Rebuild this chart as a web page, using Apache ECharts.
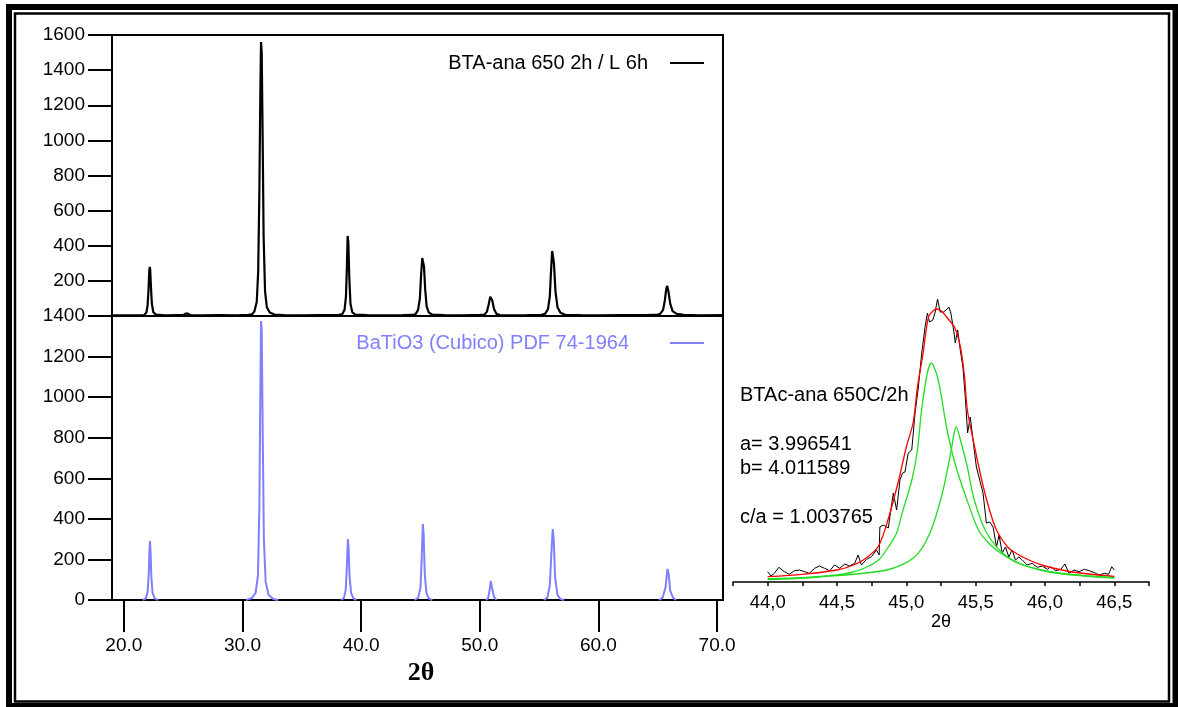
<!DOCTYPE html>
<html><head><meta charset="utf-8">
<script src="https://cdn.jsdelivr.net/npm/echarts@6/dist/echarts.min.js"></script>
<style>html,body{margin:0;padding:0;background:#fff}#c{width:1178px;height:707px}</style>
</head><body><div id="c"></div>
<script>
// ---- main pattern: tick values ----
const mainXTicks = [20, 30, 40, 50, 60, 70];
const insetXTicks = [44, 44.5, 45, 45.5, 46, 46.5];
const insetMinorTicks = [43.75, 44, 44.25, 44.5, 44.75, 45, 45.25, 45.5, 45.75, 46, 46.25, 46.5, 46.75];

// ---- series names ----
const nameSample = 'BTA-ana 650 2h / L 6h';
const nameRef = 'BaTiO3 (Cubico) PDF 74-1964';

// ---- measured pattern (2θ, counts) ----
const sampleXRD = [
  [19.0, 4], [20.5, 3], [21.5, 4],
  [21.7, 5], [21.9, 20], [22.0, 60], [22.08, 150], [22.14, 255], [22.18, 280], [22.22, 265], [22.28, 170], [22.36, 70], [22.48, 22], [22.7, 8],
  [23.5, 4], [24.5, 5],
  [25.0, 5], [25.2, 14], [25.3, 22], [25.4, 14], [25.6, 5],
  [26.5, 4], [28.0, 5], [29.5, 4], [30.5, 6],
  [30.8, 10], [31.0, 25], [31.2, 80], [31.32, 250], [31.42, 700], [31.5, 1250], [31.56, 1560], [31.62, 1500], [31.7, 1000], [31.78, 450], [31.9, 140], [32.05, 50], [32.3, 20], [32.7, 8],
  [33.5, 5], [35.0, 4], [36.5, 5], [38.0, 5],
  [38.4, 10], [38.6, 35], [38.72, 110], [38.8, 280], [38.86, 456], [38.92, 420], [39.0, 220], [39.1, 70], [39.25, 22], [39.5, 8],
  [40.5, 5], [42.0, 4], [43.5, 5], [44.4, 6],
  [44.6, 12], [44.8, 35], [44.95, 100], [45.05, 230], [45.15, 330], [45.22, 336], [45.3, 280], [45.4, 150], [45.52, 55], [45.7, 20], [46.0, 8],
  [47.0, 5], [48.5, 4], [50.0, 6],
  [50.4, 8], [50.6, 25], [50.75, 65], [50.88, 110], [50.95, 114], [51.05, 90], [51.2, 40], [51.4, 12], [51.7, 5],
  [52.5, 4], [54.0, 5], [55.2, 7],
  [55.5, 12], [55.75, 40], [55.9, 110], [56.0, 250], [56.1, 370], [56.16, 376], [56.25, 300], [56.38, 140], [56.55, 50], [56.8, 18], [57.2, 7],
  [58.5, 5], [60.0, 4], [62.0, 5], [64.0, 5], [65.0, 8],
  [65.2, 12], [65.45, 35], [65.6, 90], [65.72, 155], [65.8, 171], [65.9, 140], [66.05, 70], [66.25, 28], [66.6, 12], [67.2, 6],
  [68.5, 4], [70.5, 5]
];

// ---- reference pattern PDF 74-1964 (2θ, counts), segments near each reflection ----
const refXRD = [
  [21.6, 0], [21.85, 8], [22.0, 40], [22.1, 130], [22.16, 250], [22.2, 291], [22.25, 240], [22.32, 110], [22.42, 35], [22.6, 8], [22.9, 0], '-',
  [30.3, 0], [30.8, 10], [31.1, 35], [31.3, 120], [31.42, 450], [31.5, 1000], [31.56, 1375], [31.62, 1330], [31.7, 850], [31.8, 300], [31.95, 90], [32.2, 25], [32.6, 5], [33.0, 0], '-',
  [38.3, 0], [38.55, 10], [38.7, 50], [38.8, 170], [38.88, 300], [38.94, 260], [39.02, 120], [39.15, 35], [39.35, 8], [39.6, 0], '-',
  [44.5, 0], [44.8, 10], [45.0, 60], [45.1, 200], [45.2, 374], [45.27, 320], [45.36, 130], [45.5, 35], [45.7, 8], [46.0, 0], '-',
  [50.5, 0], [50.7, 8], [50.83, 50], [50.93, 94], [51.03, 60], [51.2, 15], [51.4, 0], '-',
  [55.4, 0], [55.7, 12], [55.9, 70], [56.05, 250], [56.15, 350], [56.23, 300], [56.35, 110], [56.55, 25], [56.8, 5], [57.1, 0], '-',
  [65.1, 0], [65.4, 10], [65.65, 60], [65.82, 153], [65.92, 130], [66.05, 45], [66.3, 10], [66.55, 0]
];

// ---- inset: (200) region, 2θ vs counts ----
const insetData = [
  [44.000,10.3],[44.024,6],[44.048,8.7],[44.080,14.7],[44.120,10.3],[44.157,7.7],[44.193,11.3],[44.230,12],[44.266,10.3],[44.300,8.7],
  [44.338,13.7],[44.374,16],[44.410,13.7],[44.447,11.3],[44.483,17],[44.520,13.7],[44.556,18],[44.590,16],[44.628,18.7],[44.652,27],
  [44.676,17],[44.713,22.7],[44.749,25.3],[44.785,32],[44.804,27],[44.809,55],[44.833,57],[44.870,54],[44.906,89],[44.930,72],
  [44.954,102],[44.973,109],[44.990,110],[45.014,129],[45.039,132],[45.063,169],[45.087,195],[45.111,229],[45.135,255],[45.152,269],
  [45.167,260],[45.191,262],[45.208,270],[45.225,283],[45.244,270],[45.268,270],[45.287,272],[45.307,275],[45.321,269],[45.341,252],
  [45.353,239],[45.370,252],[45.389,232],[45.408,215],[45.425,185],[45.442,149],[45.461,165],[45.481,142],[45.505,115],[45.529,102],
  [45.553,89],[45.577,59],[45.601,60],[45.626,55],[45.650,35],[45.669,47],[45.691,29],[45.715,35],[45.739,25],[45.763,32],
  [45.787,22],[45.812,25],[45.836,22],[45.872,17],[45.908,18.7],[45.944,14.7],[45.981,16],[46.017,12.7],[46.041,15.3],[46.077,11.3],
  [46.114,12.7],[46.143,18],[46.174,8.7],[46.210,12],[46.246,10.3],[46.283,12.7],[46.319,11.3],[46.355,9.3],[46.391,7],[46.428,8.7],
  [46.459,7.7],[46.481,15.3],[46.500,12]
];
const insetFit = [
  [44.0,5.3],[44.25,7.7],[44.5,12],[44.6,16],[44.7,23],[44.8,36],[44.88,68],[44.945,102],[45.0,135],[45.05,160],[45.08,195],
  [45.12,228],[45.16,265],[45.2,272],[45.225,273],[45.26,270],[45.29,265],[45.35,254],[45.39,235],[45.42,205],[45.44,172],
  [45.5,130],[45.55,98],[45.6,72],[45.65,52],[45.73,35],[45.8,28],[45.9,21],[46.0,16],[46.2,10],[46.5,5.5]
];
const insetComp1 = [
  [44.0,3.3],[44.25,4.3],[44.5,7],[44.6,9.5],[44.7,14],[44.8,22],[44.87,35],[44.93,49],[44.97,69],[45.04,102],[45.08,132],
  [45.11,172],[45.15,208],[45.18,219],[45.23,202],[45.29,155],[45.35,119],[45.43,85],[45.52,52],[45.6,38],[45.68,29],
  [45.8,19],[46.0,11],[46.2,7],[46.5,4.3]
];
const insetComp2 = [
  [44.0,2.3],[44.37,5],[44.86,12],[45.06,25],[45.17,49],[45.26,89],[45.32,129],[45.36,155],[45.39,142],[45.44,115],
  [45.49,82],[45.58,49],[45.73,25],[45.97,12],[46.31,6],[46.5,4]
];
const insetLabels = ['BTAc-ana 650C/2h', 'a= 3.996541', 'b= 4.011589', 'c/a = 1.003765'];

const F = 'Liberation Sans, Arial, sans-serif';
const chart = echarts.init(document.getElementById('c'), null, {renderer: 'canvas'});

const yAx = (gi, max, hideZero) => ({
  type: 'value', gridIndex: gi, min: 0, max: max, interval: 200,
  axisLine: {show: true, lineStyle: {color: '#000', width: 2}},
  axisTick: {show: true, inside: false, length: 24, lineStyle: {color: '#000', width: 2}},
  axisLabel: {color: '#000', fontSize: 19, fontFamily: F, margin: 27,
    formatter: v => (hideZero && v === 0) ? '' : String(v)},
  splitLine: {show: false}
});

const insetTextY = [395, 444, 468, 517];

const option = {
  backgroundColor: '#fff',
  animation: false,
  grid: [
    {left: 112, top: 35, width: 611, height: 281, show: true, borderColor: '#000', borderWidth: 2},
    {left: 112, top: 316, width: 611, height: 284, show: true, borderColor: '#000', borderWidth: 2},
    {left: 733, top: 282, width: 416, height: 300, show: false}
  ],
  xAxis: [
    {type: 'value', gridIndex: 0, min: 19, max: 70.5, show: false},
    {type: 'value', gridIndex: 1, min: 19, max: 70.5,
      axisLine: {show: true, lineStyle: {color: '#000', width: 2}},
      axisTick: {show: true, length: 32, customValues: mainXTicks, lineStyle: {color: '#000', width: 2}},
      axisLabel: {color: '#000', fontSize: 19, fontFamily: F, margin: 36, customValues: mainXTicks,
        formatter: v => Number(v).toFixed(1)},
      splitLine: {show: false}},
    {type: 'value', gridIndex: 2, min: 43.75, max: 46.75,
      axisLine: {show: true, lineStyle: {color: '#000', width: 1.5}},
      axisTick: {show: true, length: 4, customValues: insetMinorTicks, lineStyle: {color: '#000', width: 1.5}},
      axisLabel: {color: '#000', fontSize: 18.5, fontFamily: F, margin: 11, customValues: insetXTicks,
        formatter: v => Number(v).toFixed(1).replace('.', ',')},
      splitLine: {show: false},
      name: '2θ', nameLocation: 'middle', nameGap: 27,
      nameTextStyle: {color: '#000', fontSize: 18, fontFamily: F}}
  ],
  yAxis: [
    yAx(0, 1600, true),
    yAx(1, 1400, false),
    {type: 'value', gridIndex: 2, min: 0, max: 300, show: false}
  ],
  legend: [
    {data: [nameSample], right: 474, top: 53, padding: 0, align: 'right', icon: 'rect', itemWidth: 34, itemHeight: 2,
      textStyle: {color: '#000', fontSize: 20, fontFamily: F, padding: [0, 17, 0, 0]}, selectedMode: false},
    {data: [nameRef], right: 474, top: 333, padding: 0, align: 'right', icon: 'rect', itemWidth: 34, itemHeight: 2,
      textStyle: {color: '#7f7fff', fontSize: 20, fontFamily: F, padding: [0, 36, 0, 0]}, selectedMode: false}
  ],
  series: [
    {name: nameSample, type: 'line', xAxisIndex: 0, yAxisIndex: 0, data: sampleXRD, showSymbol: false,
      lineStyle: {color: '#000', width: 2.2}, itemStyle: {color: '#000'}},
    {name: nameRef, type: 'line', xAxisIndex: 1, yAxisIndex: 1, data: refXRD, showSymbol: false, connectNulls: false,
      lineStyle: {color: '#7f7fff', width: 2}, itemStyle: {color: '#7f7fff'}},
    {name: 'data', type: 'line', xAxisIndex: 2, yAxisIndex: 2, data: insetData, showSymbol: false,
      lineStyle: {color: '#000', width: 1}},
    {name: 'fit', type: 'line', xAxisIndex: 2, yAxisIndex: 2, data: insetFit, showSymbol: false, smooth: 0.3,
      lineStyle: {color: '#ff0000', width: 1.3}},
    {name: 'p1', type: 'line', xAxisIndex: 2, yAxisIndex: 2, data: insetComp1, showSymbol: false, smooth: 0.3,
      lineStyle: {color: '#22dd22', width: 1.3}},
    {name: 'p2', type: 'line', xAxisIndex: 2, yAxisIndex: 2, data: insetComp2, showSymbol: false, smooth: 0.3,
      lineStyle: {color: '#22dd22', width: 1.3}}
  ],
  graphic: [
    {type: 'rect', silent: true, shape: {x: 9, y: 7, width: 1166.5, height: 699}, style: {fill: 'none', stroke: '#000', lineWidth: 6}},
    {type: 'rect', silent: true, shape: {x: 15, y: 13.5, width: 1154, height: 688}, style: {fill: 'none', stroke: '#000', lineWidth: 2.5}},
    {type: 'text', silent: true, x: 421, y: 673, style: {text: '2θ', font: 'bold 26px "Liberation Serif", "Times New Roman", serif',
      fill: '#000', align: 'center', verticalAlign: 'middle', textAlign: 'center', textVerticalAlign: 'middle'}}
  ].concat(insetLabels.map((t, i) => ({
    type: 'text', silent: true, x: 740, y: insetTextY[i],
    style: {text: t, font: '20px ' + F, fill: '#000', align: 'left', verticalAlign: 'middle', textAlign: 'left', textVerticalAlign: 'middle'}
  })))
};
chart.setOption(option);
</script>
</body></html>
